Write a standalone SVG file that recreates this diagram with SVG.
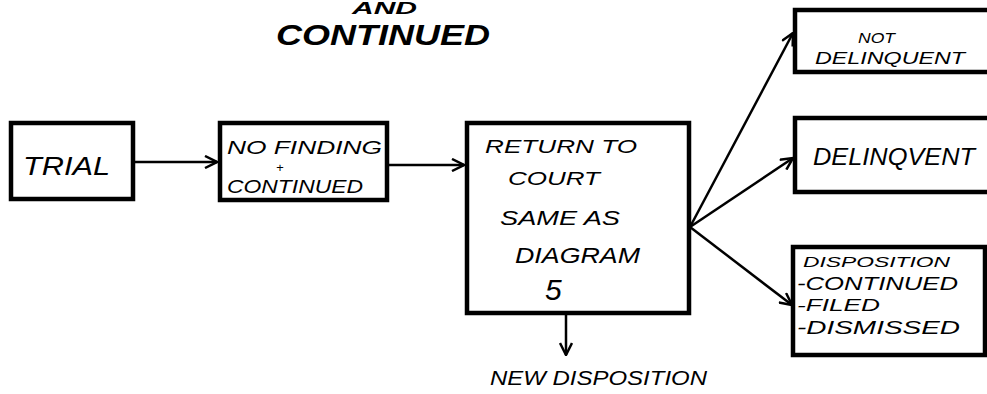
<svg xmlns="http://www.w3.org/2000/svg" width="987" height="394" viewBox="0 0 987 394">
<defs>
<style>
.box{fill:#fff;stroke:#000;stroke-width:4.5}
.t{font-family:"Liberation Sans",Arial,sans-serif;font-style:italic;fill:#000}
.title{font-family:"Liberation Sans",Arial,sans-serif;font-style:italic;font-weight:bold;fill:#000}
.c{stroke:#000;stroke-width:2.5;fill:none}
</style>
<marker id="ah" viewBox="0 0 14 14" refX="13" refY="7" markerWidth="14" markerHeight="14" markerUnits="userSpaceOnUse" orient="auto">
<path d="M1,1 L13,7 L1,13" fill="none" stroke="#000" stroke-width="2.5"/>
</marker>
</defs>
<rect width="987" height="394" fill="#fff"/>
<g id="title">
<text class="title" x="352" y="14" font-size="16" textLength="65" lengthAdjust="spacingAndGlyphs">AND</text>
<text class="title" x="276" y="45" font-size="30" textLength="214" lengthAdjust="spacingAndGlyphs">CONTINUED</text>
</g>
<g id="connectors">
<line class="c" x1="135" y1="162" x2="217" y2="162" marker-end="url(#ah)"/>
<line class="c" x1="389" y1="165" x2="464" y2="165" marker-end="url(#ah)"/>
<line class="c" x1="566" y1="315" x2="566" y2="355" marker-end="url(#ah)"/>
<line class="c" x1="690" y1="227" x2="793" y2="33" marker-end="url(#ah)"/>
<line class="c" x1="690" y1="227" x2="793" y2="158" marker-end="url(#ah)"/>
<line class="c" x1="690" y1="227" x2="792" y2="305" marker-end="url(#ah)"/>
</g>
<g id="trial">
<rect class="box" x="11" y="123" width="122" height="76"/>
<text class="t" x="23" y="175" font-size="25" textLength="87" lengthAdjust="spacingAndGlyphs">TRIAL</text>
</g>
<g id="nofinding">
<rect class="box" x="220" y="123" width="167" height="77"/>
<text class="t" x="227" y="154" font-size="19" textLength="155" lengthAdjust="spacingAndGlyphs">NO FINDING</text>
<text class="t" x="276" y="172" font-size="13">+</text>
<text class="t" x="227" y="193" font-size="19" textLength="136" lengthAdjust="spacingAndGlyphs">CONTINUED</text>
</g>
<g id="return">
<rect class="box" x="467" y="123" width="222" height="190"/>
<text class="t" x="485" y="153" font-size="19" textLength="152" lengthAdjust="spacingAndGlyphs">RETURN TO</text>
<text class="t" x="508" y="185" font-size="19" textLength="92" lengthAdjust="spacingAndGlyphs">COURT</text>
<text class="t" x="500" y="225" font-size="21" textLength="120" lengthAdjust="spacingAndGlyphs">SAME AS</text>
<text class="t" x="515" y="263" font-size="22" textLength="125" lengthAdjust="spacingAndGlyphs">DIAGRAM</text>
<text class="t" x="545" y="300" font-size="30">5</text>
</g>
<g id="newdisp">
<text class="t" x="490" y="385" font-size="20" textLength="217" lengthAdjust="spacingAndGlyphs">NEW DISPOSITION</text>
</g>
<g id="notdelinquent">
<rect class="box" x="795" y="10" width="200" height="62"/>
<text class="t" x="858" y="43" font-size="14" textLength="37" lengthAdjust="spacingAndGlyphs">NOT</text>
<text class="t" x="815" y="64" font-size="17" textLength="150" lengthAdjust="spacingAndGlyphs">DELINQUENT</text>
</g>
<g id="delinquent">
<rect class="box" x="795" y="118" width="200" height="74"/>
<text class="t" x="813" y="165" font-size="23" textLength="162" lengthAdjust="spacingAndGlyphs">DELINQVENT</text>
</g>
<g id="disposition">
<rect class="box" x="793" y="247" width="192" height="108"/>
<text class="t" x="803" y="267" font-size="15" textLength="147" lengthAdjust="spacingAndGlyphs">DISPOSITION</text>
<text class="t" x="797" y="290" font-size="19" textLength="161" lengthAdjust="spacingAndGlyphs">-CONTINUED</text>
<text class="t" x="797" y="311" font-size="17" textLength="83" lengthAdjust="spacingAndGlyphs">-FILED</text>
<text class="t" x="797" y="334" font-size="19" textLength="163" lengthAdjust="spacingAndGlyphs">-DISMISSED</text>
</g>
</svg>
